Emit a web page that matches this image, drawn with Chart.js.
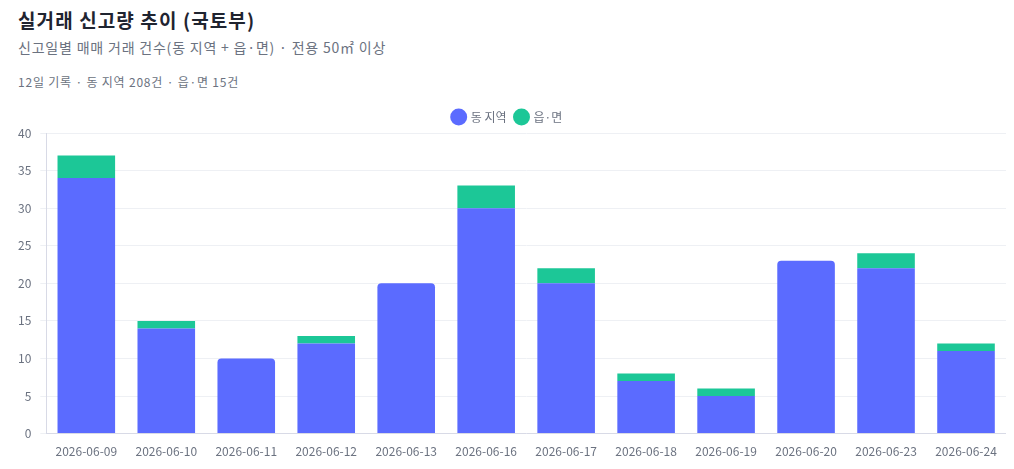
<!DOCTYPE html>
<html><head><meta charset="utf-8">
<script src="https://cdn.jsdelivr.net/npm/chart.js@4"></script>
<style>
html,body{margin:0;padding:0;background:#fff;font-family:"Noto Sans CJK KR","Noto Sans",sans-serif;}
.wrap{width:1014px;height:469px;box-sizing:border-box;padding:7px 8px 0 18px;position:relative;}
h1{margin:0;font-size:19px;font-weight:700;color:#1f2430;line-height:26px;letter-spacing:1.1px;}
.sub{margin-top:5px;font-size:14px;color:#6b7280;line-height:18px;letter-spacing:0.8px;}
.meta{margin-top:17px;font-size:12px;color:#6b7280;line-height:18px;letter-spacing:0.8px;}
.cv{position:absolute;left:9px;top:102px;width:997px;height:360px;}
</style></head><body>
<div class="wrap">
<h1>실거래 신고량 추이 (국토부)</h1>
<div class="sub">신고일별 매매 거래 건수(동 지역 + 읍·면) · 전용 50㎡ 이상</div>
<div class="meta">12일 기록 · 동 지역 208건 · 읍·면 15건</div>
<div class="cv"><canvas id="c"></canvas></div>
</div>
<script>
const dates = ["2026-06-09","2026-06-10","2026-06-11","2026-06-12","2026-06-13","2026-06-16","2026-06-17","2026-06-18","2026-06-19","2026-06-20","2026-06-23","2026-06-24"];
const dongValues = [34,14,10,12,20,30,20,7,5,23,22,11];
const eupValues = [3,1,0,1,0,3,2,1,1,0,2,1];
const seriesNames = ["동 지역","읍·면"];
const yTicks = {min:0,max:40,step:5};

new Chart(document.getElementById('c'), {
  type:'bar',
  data:{labels:dates,datasets:[
    {label:seriesNames[0],data:dongValues,backgroundColor:'#5b6bff',borderRadius:4,borderSkipped:'start',categoryPercentage:0.8,barPercentage:0.9},
    {label:seriesNames[1],data:eupValues,backgroundColor:'#1cc797',borderRadius:0,categoryPercentage:0.8,barPercentage:0.9}
  ]},
  options:{
    responsive:true,maintainAspectRatio:false,animation:false,
    layout:{padding:{left:0,right:0,top:0,bottom:0}},
    plugins:{
      legend:{position:'top',labels:{usePointStyle:true,pointStyle:'circle',boxWidth:15,boxHeight:15,padding:9,color:'#6b7280',font:{size:12,family:'"Noto Sans CJK KR"'}}},
      tooltip:{enabled:false}
    },
    scales:{
      x:{stacked:true,grid:{display:false},border:{color:'#d8dae6'},ticks:{color:'#6b7280',font:{size:12,family:'"Noto Sans CJK KR"'}}},
      y:{stacked:true,min:yTicks.min,max:yTicks.max,ticks:{stepSize:yTicks.step,color:'#6b7280',padding:9,font:{size:12,family:'"Noto Sans CJK KR"'}},grid:{color:'#eef0f4',tickLength:6},border:{color:'#d8dae6'}}
    }
  }
});
</script>
</body></html>
